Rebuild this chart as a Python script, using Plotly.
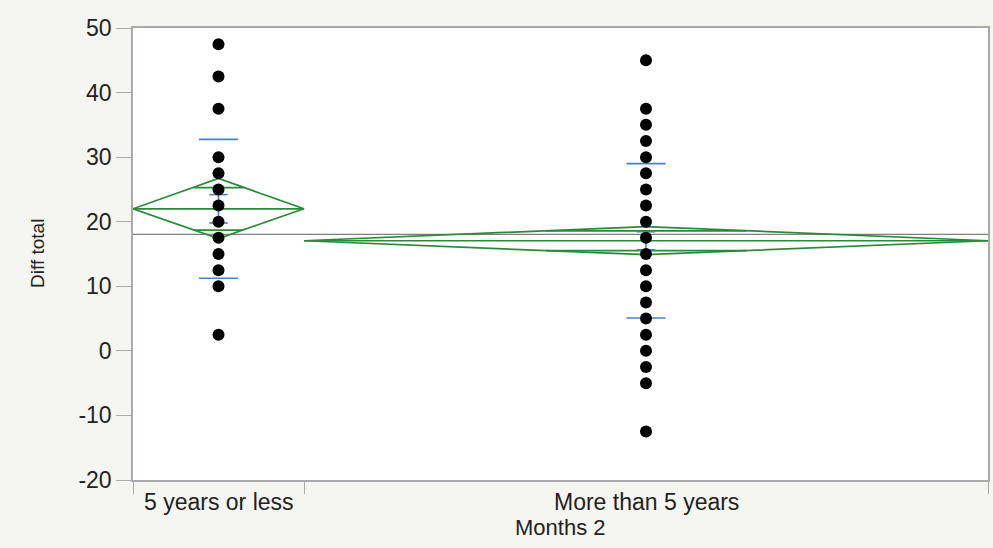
import plotly.graph_objects as go
import math

# ---- data ----
categories = ["5 years or less", "More than 5 years"]
group1_values = [47.5, 42.5, 37.5, 30, 27.5, 25, 22.5, 20, 17.5, 15, 12.5, 10, 2.5]
group2_values = [45, 37.5, 35, 32.5, 30, 27.5, 25, 22.5, 20, 17.5, 15, 12.5, 10,
                 7.5, 5, 2.5, 0, -2.5, -5, -12.5]
group_n = [24, 96]
group_mean = [22.0, 17.05]
ci_lower = [17.4, 14.9]
ci_upper = [26.7, 19.25]
std_dev = [10.75, 11.95]
std_err = [2.2, 1.4]
grand_mean = 18.05
y_ticks = [-20, -10, 0, 10, 20, 30, 40, 50]
y_tick_labels = ["-20", "-10", "0", "10", "20", "30", "40", "50"]

# ---- styles ----
GREEN = "#2a8a3a"
BLUE = "#4a80c4"
GREY = "#7f7f7f"
FONT = "Liberation Sans, Arial, sans-serif"

total_n = sum(group_n)
starts = [sum(group_n[:i]) for i in range(len(group_n))]
centers = [s + n / 2 for s, n in zip(starts, group_n)]
bounds = [0] + [s + n for s, n in zip(starts, group_n)]

fig = go.Figure()

# grand mean line
fig.add_trace(go.Scatter(x=[0, total_n], y=[grand_mean, grand_mean], mode="lines",
                         line=dict(color=GREY, width=1.3), hoverinfo="skip"))

sd_half = 2.75   # half width of std dev marks (x units)
cap_half = 1.3   # half width of std err caps

for i in range(len(categories)):
    s, n, c = starts[i], group_n[i], centers[i]
    m, lo, hi = group_mean[i], ci_lower[i], ci_upper[i]
    # diamond
    fig.add_trace(go.Scatter(x=[s, c, s + n, c, s], y=[m, hi, m, lo, m], mode="lines",
                             line=dict(color=GREEN, width=1.7), hoverinfo="skip"))
    # mean line
    fig.add_trace(go.Scatter(x=[s, s + n], y=[m, m], mode="lines",
                             line=dict(color=GREEN, width=1.7), hoverinfo="skip"))
    # overlap marks
    half = (hi - lo) / 2
    off = half / math.sqrt(2)
    frac = 1 - off / half
    for yy in (m + off, m - off):
        fig.add_trace(go.Scatter(x=[c - frac * n / 2, c + frac * n / 2], y=[yy, yy],
                                 mode="lines", line=dict(color=GREEN, width=1.7),
                                 hoverinfo="skip"))
    # std dev marks
    for yy in (m + std_dev[i], m - std_dev[i]):
        fig.add_trace(go.Scatter(x=[c - sd_half, c + sd_half], y=[yy, yy], mode="lines",
                                 line=dict(color=BLUE, width=1.6), hoverinfo="skip"))
    # std err bar
    fig.add_trace(go.Scatter(x=[c, c], y=[m - std_err[i], m + std_err[i]], mode="lines",
                             line=dict(color=BLUE, width=1.6), hoverinfo="skip"))
    for yy in (m + std_err[i], m - std_err[i]):
        fig.add_trace(go.Scatter(x=[c - cap_half, c + cap_half], y=[yy, yy], mode="lines",
                                 line=dict(color=BLUE, width=1.6), hoverinfo="skip"))

# points
for i, vals in enumerate([group1_values, group2_values]):
    fig.add_trace(go.Scatter(x=[centers[i]] * len(vals), y=vals, mode="markers",
                             marker=dict(color="black", size=12), hoverinfo="y"))

annotations = []
for i, cat in enumerate(categories):
    annotations.append(dict(x=centers[i], y=0, xref="x", yref="paper", text=cat,
                            showarrow=False, yanchor="top", yshift=-7,
                            font=dict(family=FONT, size=23, color="#222")))
annotations.append(dict(x=0.5, y=0, xref="paper", yref="paper", text="Months 2",
                        showarrow=False, yanchor="top", yshift=-33,
                        font=dict(family=FONT, size=22, color="#222")))
annotations.append(dict(x=0, y=0.5, xref="paper", yref="paper", text="Diff total",
                        showarrow=False, textangle=-90, xanchor="center", xshift=-96,
                        font=dict(family=FONT, size=19, color="#222")))

fig.update_layout(
    width=993, height=548,
    margin=dict(l=133, r=3, t=28, b=68),
    paper_bgcolor="#f5f5f2",
    plot_bgcolor="white",
    showlegend=False,
    annotations=annotations,
    font=dict(family=FONT, color="#222"),
    xaxis=dict(range=[0, total_n], tickvals=bounds, ticktext=[""] * len(bounds),
               ticks="outside", ticklen=12, tickcolor="#aaa", showgrid=False,
               zeroline=False, showline=True, linecolor="#aaa", linewidth=1.5,
               mirror=True),
    yaxis=dict(range=[-20, 50], tickvals=y_ticks, ticktext=y_tick_labels,
               ticks="outside", ticklen=15,
               tickcolor="#aaa", showgrid=False, zeroline=False, showline=True,
               linecolor="#aaa", linewidth=1.5, mirror=True,
               tickfont=dict(family=FONT, size=23, color="#222")),
)

fig.write_html("out.html")
